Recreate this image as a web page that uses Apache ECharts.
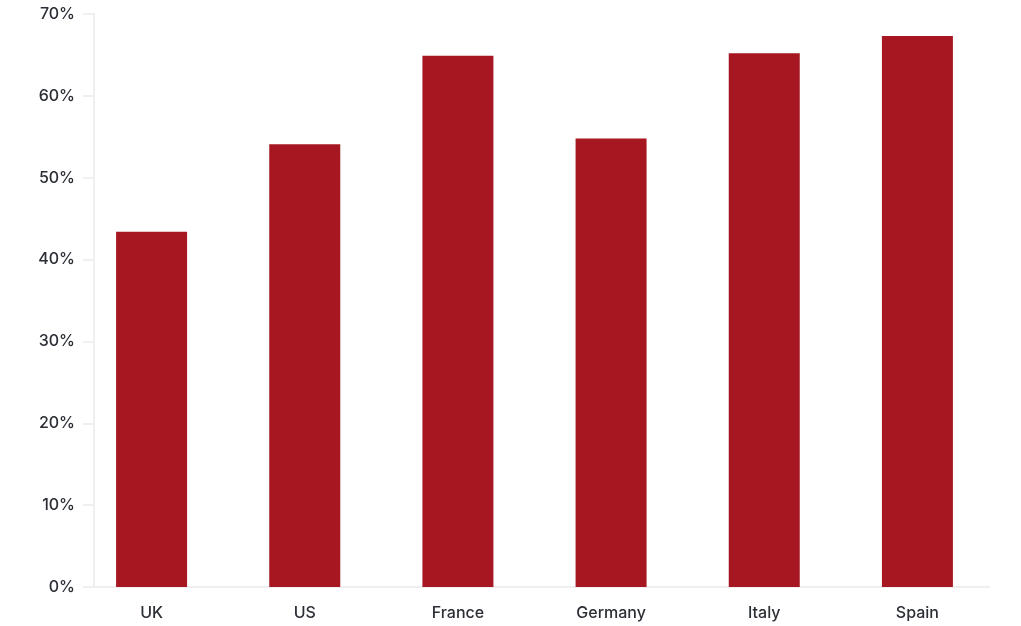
<!DOCTYPE html>
<html>
<head>
<meta charset="utf-8">
<script src="https://cdn.jsdelivr.net/npm/echarts@6/dist/echarts.min.js"></script>
<style>
  html, body { margin: 0; padding: 0; background: #ffffff; }
  #chart { width: 1021px; height: 626px; }
</style>
</head>
<body>
<div id="chart"></div>
<script>
// Share of respondents by country (%)
const countries = ['UK', 'US', 'France', 'Germany', 'Italy', 'Spain'];
const shares = [43.4, 54.1, 64.9, 54.8, 65.2, 67.3];
const yTicks = [0, 10, 20, 30, 40, 50, 60, 70];

const textColor = '#2b2e35';
const lineColor = '#efefef';
const barColor = '#a71721';
const font = 'Inter, Lato, sans-serif';

const chart = echarts.init(document.getElementById('chart'), null, { renderer: 'canvas' });

chart.setOption({
  animation: false,
  backgroundColor: '#ffffff',
  grid: [
    // frame grid: carries the axis lines and percentage ticks
    { left: 94, right: 32, top: 14, bottom: 39 },
    // bar grid: holds the columns and country labels
    { left: 75, right: 27, top: 14, bottom: 39 }
  ],
  xAxis: [
    {
      gridIndex: 0, type: 'value', min: 0, max: 1,
      axisLine: { show: true, lineStyle: { color: lineColor, width: 2 } },
      axisTick: { show: false }, axisLabel: { show: false }, splitLine: { show: false }
    },
    {
      gridIndex: 1, type: 'category', data: countries,
      axisLine: { show: false }, axisTick: { show: false },
      axisLabel: { color: textColor, fontSize: 16, fontWeight: 500, fontFamily: font, margin: 18 }
    }
  ],
  yAxis: [
    {
      gridIndex: 0, type: 'value', min: yTicks[0], max: yTicks[yTicks.length - 1], interval: 10,
      axisLine: { show: true, lineStyle: { color: lineColor, width: 2 } },
      axisTick: { show: true, length: 11, lineStyle: { color: lineColor, width: 2 } },
      axisLabel: { color: textColor, fontSize: 16, fontWeight: 500, fontFamily: font, margin: 19, formatter: '{value}%' },
      splitLine: { show: false }
    },
    {
      gridIndex: 1, type: 'value', min: yTicks[0], max: yTicks[yTicks.length - 1], interval: 10,
      show: false
    }
  ],
  series: [
    {
      type: 'bar',
      xAxisIndex: 1, yAxisIndex: 1,
      data: shares,
      barWidth: 71,
      itemStyle: { color: barColor },
      z: 3
    }
  ]
});
</script>
</body>
</html>
